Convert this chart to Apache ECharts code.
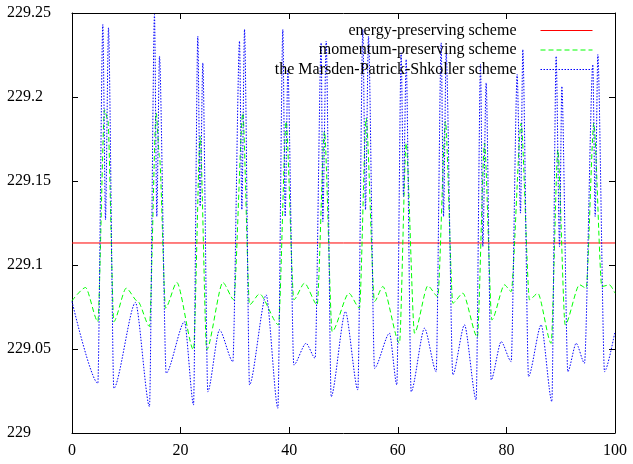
<!DOCTYPE html>
<html><head><meta charset="utf-8">
<script src="https://cdn.jsdelivr.net/npm/echarts@6/dist/echarts.min.js"></script>
<style>html,body{margin:0;padding:0;background:#fff}#c{width:633px;height:464px}</style>
</head><body><div id="c"></div>
<script>
const seriesNames = ['energy-preserving scheme', 'momentum-preserving scheme', 'the Marsden-Patrick-Shkoller scheme'];
const xTicks = [0, 20, 40, 60, 80, 100];
const yTicks = [229, 229.05, 229.1, 229.15, 229.2, 229.25];

const energyX = [0, 100];
const energyY = [229.1131, 229.1131];

const momentumX = [0, 2.49, 4.76, 5.99, 6.60, 7.70, 9.98, 12.12, 14.27, 15.50, 16.11, 17.22, 19.31, 22.38, 23.60, 24.80,
  27.78, 29.80, 31.46, 32.69, 34.53, 38.03, 39.44, 40.85, 42.82, 45.15, 46.50, 47.91, 51.00, 52.95, 54.17, 55.71,
  57.24, 60.31, 61.54, 63.08, 65.53, 67.37, 68.78, 70.13, 71.98, 74.65, 75.97, 77.32, 79.65, 80.88, 82.72, 84.25,
  85.79, 88.24, 89.47, 90.82, 93.46, 94.69, 96.10, 97.57, 98.99, 100];
const momentumY = [229.0787, 229.0866, 229.0663, 229.1925, 229.1865, 229.0663, 229.0862, 229.0783, 229.0634, 229.1905, 229.1647, 229.0743, 229.0896, 229.0495, 229.1766, 229.0495,
  229.0896, 229.0793, 229.1905, 229.0763, 229.0828, 229.0644, 229.1855, 229.0793, 229.0892, 229.0763, 229.1796, 229.0604, 229.0832, 229.0743, 229.1875, 229.0783,
  229.0872, 229.0534, 229.1726, 229.0594, 229.0876, 229.0812, 229.1855, 229.0773, 229.0832, 229.0570, 229.1726, 229.0673, 229.0882, 229.0842, 229.1845, 229.0793,
  229.0832, 229.0534, 229.1687, 229.0644, 229.0882, 229.0862, 229.1845, 229.0872, 229.0882, 229.0832];

const mpsX = [0, 4.76, 5.68, 6.17, 6.72, 7.70, 11.69, 14.27, 15.19, 15.62, 16.11, 17.34, 20.72, 22.38, 23.17, 23.60, 24.09, 25.01,
  27.16, 29.62, 30.85, 31.28, 31.77, 32.69, 35.76, 37.91, 38.83, 39.26, 39.75, 40.85, 43.10, 44.78, 45.89, 46.19, 46.81, 47.73,
  50.35, 52.64, 53.56, 54.05, 54.60, 55.71, 58.47, 59.82, 60.62, 61.05, 61.54, 62.46, 64.92, 67.07, 67.99, 68.42, 68.91, 70.13,
  72.28, 74.43, 75.23, 75.66, 76.27, 77.19, 79.04, 80.88, 81.98, 82.60, 83.02, 84.07, 86.40, 88.37, 89.16, 89.78, 90.21, 91.31,
  92.85, 94.38, 95.92, 96.35, 96.84, 98.07, 100];
const mpsY = [229.0783, 229.0296, 229.2431, 229.1269, 229.2412, 229.0266, 229.0777, 229.0157, 229.2491, 229.1289, 229.2243, 229.0356, 229.0663, 229.0167, 229.2362, 229.1350, 229.2203, 229.0246,
  229.0614, 229.0425, 229.2332, 229.1329, 229.2402, 229.0286, 229.0822, 229.0147, 229.2402, 229.1289, 229.2163, 229.0405, 229.0534, 229.0445, 229.2322, 229.1259, 229.2332, 229.0216,
  229.0723, 229.0256, 229.2402, 229.1329, 229.2362, 229.0385, 229.0594, 229.0286, 229.2263, 229.1408, 229.2223, 229.0246, 229.0624, 229.0365, 229.2322, 229.1289, 229.2263, 229.0346,
  229.0644, 229.0197, 229.2193, 229.1110, 229.2084, 229.0316, 229.0544, 229.0425, 229.2134, 229.1309, 229.2282, 229.0336, 229.0644, 229.0187, 229.2243, 229.1110, 229.2064, 229.0365,
  229.0534, 229.0415, 229.2193, 229.1289, 229.2253, 229.0365, 229.0604];

const zip = (xs, ys) => xs.map((x, i) => [x, ys[i]]);
const FONT = 'Liberation Serif';
const chart = echarts.init(document.getElementById('c'), null, {renderer: 'canvas'});

const xAxisBase = {type: 'value', min: xTicks[0], max: xTicks[xTicks.length - 1], interval: 20,
  axisLine: {show: true, onZero: false, lineStyle: {color: '#000', width: 1}},
  axisTick: {show: true, inside: true, length: 6, lineStyle: {color: '#000'}},
  splitLine: {show: false}};
const yAxisBase = {type: 'value', min: yTicks[0], max: yTicks[yTicks.length - 1], interval: 0.05,
  axisLine: {show: true, onZero: false, lineStyle: {color: '#000', width: 1}},
  axisTick: {show: true, inside: true, length: 6, lineStyle: {color: '#000'}},
  splitLine: {show: false}};

const legendTops = [22.5, 42, 61.5];
chart.setOption({
  animation: false,
  backgroundColor: '#fff',
  grid: {left: 72, right: 18, top: 13, bottom: 31, containLabel: false},
  xAxis: [
    Object.assign({}, xAxisBase, {position: 'bottom',
      axisLabel: {show: true, color: '#000', fontFamily: FONT, fontSize: 16, margin: 10}}),
    Object.assign({}, xAxisBase, {position: 'top', axisLabel: {show: false}})
  ],
  yAxis: [
    Object.assign({}, yAxisBase, {position: 'left',
      axisLabel: {show: true, color: '#000', fontFamily: FONT, fontSize: 16, align: 'left', margin: 65,
        formatter: v => String(Math.round(v * 100) / 100)}}),
    Object.assign({}, yAxisBase, {position: 'right', axisLabel: {show: false}})
  ],
  legend: seriesNames.map((n, i) => ({
    data: [n], orient: 'vertical', right: 40, top: legendTops[i], padding: 0, align: 'right',
    itemWidth: 52, itemHeight: 14, selectedMode: false,
    itemStyle: {opacity: 0},
    lineStyle: {width: 1},
    textStyle: {fontFamily: FONT, fontSize: 16, color: '#000', padding: [0, 19, 0, 0]}
  })),
  series: [
    {name: seriesNames[0], type: 'line', data: zip(energyX, energyY), symbol: 'none',
      lineStyle: {color: '#ff0000', width: 1}, itemStyle: {color: '#ff0000'}},
    {name: seriesNames[1], type: 'line', data: zip(momentumX, momentumY), symbol: 'none',
      smooth: 0.25, smoothMonotone: 'x',
      lineStyle: {color: '#00ff00', width: 1, type: [5, 3]}, itemStyle: {color: '#00ff00'}},
    {name: seriesNames[2], type: 'line', data: zip(mpsX, mpsY), symbol: 'none',
      smooth: 0.25, smoothMonotone: 'x',
      lineStyle: {color: '#0000ff', width: 1, type: [1.5, 1.5]}, itemStyle: {color: '#0000ff'}}
  ]
});
</script></body></html>
